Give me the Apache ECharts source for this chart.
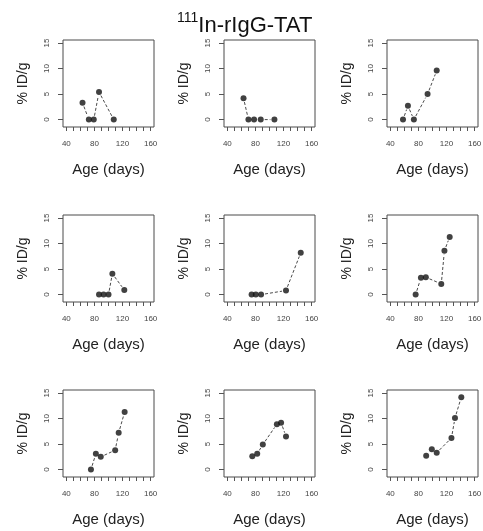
<!DOCTYPE html>
<html>
<head>
<meta charset="utf-8">
<script src="https://cdn.jsdelivr.net/npm/echarts@6/dist/echarts.min.js"></script>
<style>
html,body{margin:0;padding:0;background:#fff;}
#chart{width:483px;height:531px;}
</style>
</head>
<body>
<div id="chart"></div>
<script>
// ---- data ----
const ages1 = [63, 72, 79, 86.5, 107.5];
const vals1 = [3.3, 0, 0, 5.4, 0];
const ages2 = [63, 70, 78, 87.5, 107];
const vals2 = [4.2, 0, 0, 0, 0];
const ages3 = [58, 65, 73.5, 93, 106];
const vals3 = [0, 2.7, 0, 5.0, 9.6];
const ages4 = [86.5, 93, 100, 105.5, 122.5];
const vals4 = [0, 0, 0, 4.1, 0.9];
const ages5 = [74.5, 80.5, 88, 123.5, 144.5];
const vals5 = [0, 0, 0, 0.8, 8.2];
const ages6 = [76, 83.5, 90.5, 112.5, 117, 124.5];
const vals6 = [0, 3.3, 3.4, 2.1, 8.6, 11.3];
const ages7 = [75, 82, 89, 109.5, 114.5, 123];
const vals7 = [0, 3.1, 2.5, 3.8, 7.2, 11.3];
const ages8 = [75.5, 82.5, 90.5, 110.5, 116.5, 123.5];
const vals8 = [2.6, 3.1, 4.9, 8.9, 9.2, 6.5];
const ages9 = [91, 99, 106, 127, 132, 141];
const vals9 = [2.7, 4.0, 3.3, 6.2, 10.1, 14.2];

const xTickValues = [40, 50, 60, 70, 80, 90, 100, 110, 120, 130, 140, 150, 160];
const xTickLabels = [40, 80, 120, 160];
const yTickValues = [0, 5, 10, 15];
const yTickLabels = [0, 5, 10, 15];

const titleSup = '111';
const titleMain = 'In-rIgG-TAT';
const xName = 'Age (days)';
const yName = '% ID/g';

const panelAges = [ages1, ages2, ages3, ages4, ages5, ages6, ages7, ages8, ages9];
const panelVals = [vals1, vals2, vals3, vals4, vals5, vals6, vals7, vals8, vals9];

// ---- layout ----
const colLeft = [63, 224, 387];
const rowTop = [40, 215, 390];
const boxW = 91;
const boxH = 87;
const FONT = "'Liberation Sans', Arial, Helvetica, sans-serif";

const grids = [], xAxes = [], yAxes = [], series = [];

panelAges.forEach((ages, i) => {
  const vals = panelVals[i];
  const r = Math.floor(i / 3), c = i % 3;
  grids.push({
    left: colLeft[c], top: rowTop[r], width: boxW, height: boxH,
    show: true, borderColor: '#4a4a4a', borderWidth: 1, backgroundColor: 'transparent',
    containLabel: false, outerBoundsMode: 'none'
  });
  xAxes.push({
    type: 'value', gridIndex: i, min: 35.2, max: 164.8, position: 'bottom',
    axisLine: { show: false, onZero: false },
    splitLine: { show: false },
    axisTick: { show: true, inside: false, length: 4, customValues: xTickValues, lineStyle: { color: '#555', width: 1 } },
    axisLabel: { show: true, customValues: xTickLabels, margin: 13, fontSize: 8, color: '#444', fontFamily: FONT, showMinLabel: true, showMaxLabel: true },
    name: xName, nameLocation: 'middle', nameGap: 35,
    nameTextStyle: { fontSize: 15, color: '#222', fontFamily: FONT }
  });
  yAxes.push({
    type: 'value', gridIndex: i, min: -1.45, max: 15.6, position: 'left',
    axisLine: { show: false, onZero: false },
    splitLine: { show: false },
    axisTick: { show: true, inside: false, length: 5, customValues: yTickValues, lineStyle: { color: '#555', width: 1 } },
    axisLabel: { show: true, customValues: yTickLabels, rotate: 90, margin: 12, fontSize: 8, color: '#444', fontFamily: FONT, showMinLabel: true, showMaxLabel: true },
    name: yName, nameLocation: 'middle', nameGap: 33, nameRotate: 90,
    nameTextStyle: { fontSize: 14, color: '#222', fontFamily: FONT }
  });
  const segs = [];
  for (let k = 1; k < ages.length; k++) segs.push([ages[k - 1], vals[k - 1], ages[k], vals[k]]);
  series.push({
    type: 'custom', xAxisIndex: i, yAxisIndex: i, silent: true,
    data: segs, encode: { x: [0, 2], y: [1, 3] }, clip: false,
    renderItem: function (params, api) {
      const p1 = api.coord([api.value(0), api.value(1)]);
      const p2 = api.coord([api.value(2), api.value(3)]);
      const dx = p2[0] - p1[0], dy = p2[1] - p1[1];
      const len = Math.sqrt(dx * dx + dy * dy);
      const gap = 4;
      if (len < 2 * gap + 1) return null;
      const ux = dx / len, uy = dy / len;
      return {
        type: 'line',
        shape: { x1: p1[0] + ux * gap, y1: p1[1] + uy * gap, x2: p2[0] - ux * gap, y2: p2[1] - uy * gap },
        style: { stroke: '#4a4a4a', lineWidth: 1, lineDash: [3, 2] }
      };
    }
  });
  series.push({
    type: 'scatter', xAxisIndex: i, yAxisIndex: i, silent: true,
    symbol: 'circle', symbolSize: 6,
    itemStyle: { color: '#111' },
    data: ages.map((a, k) => [a, vals[k]])
  });
});

const chart = echarts.init(document.getElementById('chart'), null, { renderer: 'canvas' });
chart.setOption({
  animation: false,
  backgroundColor: '#fff',
  title: {
    text: '{s|' + titleSup + '}{m|' + titleMain + '}',
    left: 172, top: 6,
    textStyle: {
      fontFamily: FONT, fontWeight: 'normal',
      rich: {
        s: { fontSize: 14, color: '#111', fontFamily: FONT, fontWeight: 'normal', verticalAlign: 'top', lineHeight: 26 },
        m: { fontSize: 22, color: '#111', fontFamily: FONT, fontWeight: 'normal', verticalAlign: 'bottom', lineHeight: 26 }
      }
    }
  },
  grid: grids,
  xAxis: xAxes,
  yAxis: yAxes,
  series: series
});
</script>
</body>
</html>
